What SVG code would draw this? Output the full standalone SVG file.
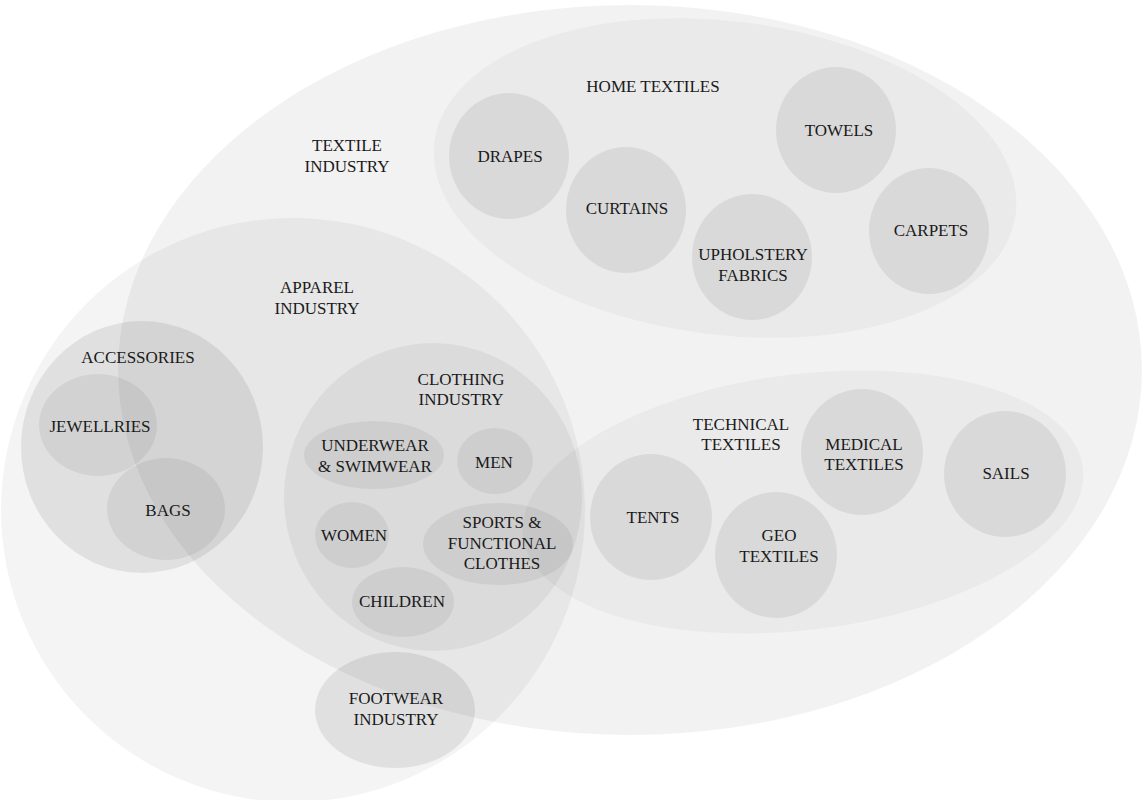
<svg xmlns="http://www.w3.org/2000/svg" width="1145" height="800" viewBox="0 0 1145 800">
<style>
.l1{fill:#000;fill-opacity:0.05}
.ap{fill:#000;fill-opacity:0.045}
.l2{fill:#000;fill-opacity:0.03}
.grp{fill:#000;fill-opacity:0.08}
.cl{fill:#000;fill-opacity:0.05}
.leaf{fill:#000;fill-opacity:0.072}
.sub{fill:#000;fill-opacity:0.06}
text{font-family:"Liberation Serif","Times New Roman",serif;font-size:17px;fill:#1a1a1a;text-anchor:middle}
</style>
<rect width="1145" height="800" fill="#fff"/>
<g id="textile-industry">
<ellipse class="l1" cx="630" cy="370" rx="512" ry="365"/>
<text x="347" y="151">TEXTILE</text><text x="347" y="172">INDUSTRY</text>
</g>
<g id="apparel-industry">
<ellipse class="ap" cx="293" cy="510" rx="292" ry="292"/>
<text x="317" y="293">APPAREL</text><text x="317" y="314">INDUSTRY</text>
</g>
<g id="home-textiles">
<ellipse class="l2" cx="725" cy="178" rx="293" ry="157" transform="rotate(7 725 178)"/>
<text x="653" y="92">HOME TEXTILES</text>
</g>
<g id="technical-textiles">
<ellipse class="l2" cx="803" cy="502" rx="282" ry="128" transform="rotate(-7 803 502)"/>
<text x="741" y="430">TECHNICAL</text><text x="741" y="450">TEXTILES</text>
</g>
<g id="accessories">
<ellipse class="grp" cx="142" cy="447" rx="121" ry="126"/>
<text x="138" y="363">ACCESSORIES</text>
</g>
<g id="jewellries">
<ellipse class="sub" cx="98" cy="425" rx="59" ry="51"/>
<text x="100" y="432">JEWELLRIES</text>
</g>
<g id="bags">
<ellipse class="sub" cx="166" cy="509" rx="59" ry="51"/>
<text x="168" y="516">BAGS</text>
</g>
<g id="clothing-industry">
<ellipse class="cl" cx="433" cy="497" rx="149" ry="154"/>
<text x="461" y="385">CLOTHING</text><text x="461" y="405">INDUSTRY</text>
</g>
<g id="underwear-swimwear">
<ellipse class="sub" cx="374" cy="455" rx="70" ry="34"/>
<text x="375" y="451">UNDERWEAR</text><text x="375" y="472">&amp; SWIMWEAR</text>
</g>
<g id="men">
<ellipse class="sub" cx="495" cy="461" rx="38" ry="33"/>
<text x="494" y="468">MEN</text>
</g>
<g id="women">
<ellipse class="sub" cx="352" cy="535" rx="37" ry="33"/>
<text x="354" y="541">WOMEN</text>
</g>
<g id="sports-functional">
<ellipse class="sub" cx="498" cy="544" rx="75" ry="41"/>
<text x="502" y="528">SPORTS &amp;</text><text x="502" y="549">FUNCTIONAL</text><text x="502" y="569">CLOTHES</text>
</g>
<g id="children">
<ellipse class="sub" cx="403" cy="602" rx="51" ry="35"/>
<text x="402" y="607">CHILDREN</text>
</g>
<g id="footwear-industry">
<ellipse class="grp" cx="395" cy="710" rx="80" ry="58"/>
<text x="396" y="704">FOOTWEAR</text><text x="396" y="725">INDUSTRY</text>
</g>
<g id="drapes">
<ellipse class="leaf" cx="509" cy="156" rx="60" ry="63"/>
<text x="510" y="162">DRAPES</text>
</g>
<g id="curtains">
<ellipse class="leaf" cx="626" cy="210" rx="60" ry="63"/>
<text x="627" y="214">CURTAINS</text>
</g>
<g id="upholstery-fabrics">
<ellipse class="leaf" cx="752" cy="257" rx="60" ry="63"/>
<text x="753" y="260">UPHOLSTERY</text><text x="753" y="281">FABRICS</text>
</g>
<g id="towels">
<ellipse class="leaf" cx="836" cy="130" rx="60" ry="63"/>
<text x="839" y="136">TOWELS</text>
</g>
<g id="carpets">
<ellipse class="leaf" cx="929" cy="231" rx="60" ry="63"/>
<text x="931" y="236">CARPETS</text>
</g>
<g id="tents">
<ellipse class="leaf" cx="651" cy="517" rx="61" ry="63"/>
<text x="653" y="523">TENTS</text>
</g>
<g id="geo-textiles">
<ellipse class="leaf" cx="776" cy="555" rx="61" ry="63"/>
<text x="779" y="541">GEO</text><text x="779" y="562">TEXTILES</text>
</g>
<g id="medical-textiles">
<ellipse class="leaf" cx="862" cy="452" rx="61" ry="63"/>
<text x="864" y="450">MEDICAL</text><text x="864" y="470">TEXTILES</text>
</g>
<g id="sails">
<ellipse class="leaf" cx="1005" cy="474" rx="61" ry="63"/>
<text x="1006" y="479">SAILS</text>
</g>
<g id="connectors"/>
</svg>
